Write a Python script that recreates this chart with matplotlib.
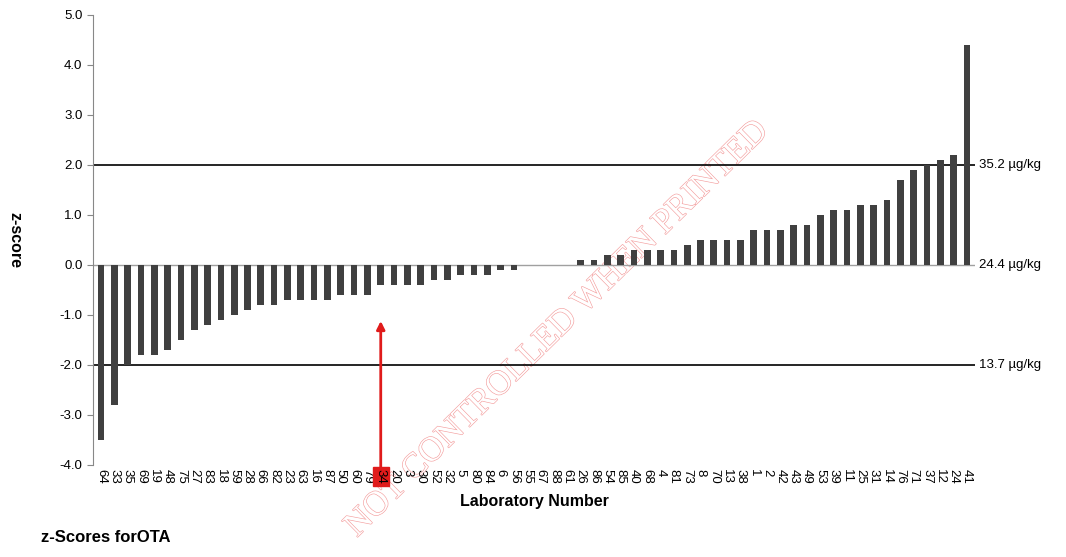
import numpy as np
import matplotlib.pyplot as plt
import matplotlib.patheffects as pe
from matplotlib.transforms import blended_transform_factory

plt.rcParams['font.family'] = ['Liberation Sans', 'DejaVu Sans']

# lab numbers, ordered by z-score
labs = ['64', '33', '35', '69', '19', '48', '75', '27', '83', '18', '59', '28',
        '66', '82', '23', '63', '16', '87', '50', '60', '79', '34', '20', '3',
        '30', '52', '32', '5', '80', '84', '6', '56', '55', '67', '88', '61',
        '26', '86', '54', '85', '40', '68', '4', '81', '73', '8', '70', '13',
        '38', '1', '2', '42', '43', '49', '53', '39', '11', '25', '31', '14',
        '76', '71', '37', '12', '24', '41']
zscores = [-3.5, -2.8, -2.0, -1.8, -1.8, -1.7, -1.5, -1.3, -1.2, -1.1, -1.0, -0.9,
           -0.8, -0.8, -0.7, -0.7, -0.7, -0.7, -0.6, -0.6, -0.6, -0.4, -0.4, -0.4,
           -0.4, -0.3, -0.3, -0.2, -0.2, -0.2, -0.1, -0.1, 0.0, 0.0, 0.0, 0.0,
           0.1, 0.1, 0.2, 0.2, 0.3, 0.3, 0.3, 0.3, 0.4, 0.5, 0.5, 0.5,
           0.5, 0.7, 0.7, 0.7, 0.8, 0.8, 1.0, 1.1, 1.1, 1.2, 1.2, 1.3,
           1.7, 1.9, 2.0, 2.1, 2.2, 4.4]
limit_z = [2.0, 0.0, -2.0]
limit_txt = ['35.2 µg/kg', '24.4 µg/kg', '13.7 µg/kg']
own_lab = '34'

fig = plt.figure(figsize=(10.66, 5.57), dpi=100)
ax = fig.add_axes([0.0872, 0.1652, 0.8274, 0.8079])
ax.patch.set_alpha(0)
ax.set_zorder(2)

x = np.arange(len(labs))
ax.bar(x, zscores, width=0.5, color='#404040', zorder=3)

ax.set_xlim(-0.6, len(labs) - 0.4)
ax.set_ylim(-4.0, 5.0)
ax.set_yticks(np.arange(-4, 5.1, 1.0))
ax.set_yticklabels([f'{v:.1f}' for v in np.arange(-4, 5.1, 1.0)], fontsize=9.5)

ax.axhline(0, color='#a0a0a0', lw=1.0, zorder=1)
ax.axhline(2, color='black', lw=1.2, zorder=2)
ax.axhline(-2, color='black', lw=1.2, zorder=2)

tr = blended_transform_factory(ax.transAxes, ax.transData)
for z, t in zip(limit_z, limit_txt):
    ax.text(1.005, z, t, transform=tr, va='center', ha='left', fontsize=9.5)

ax.set_xticks(x)
ax.set_xticklabels(labs, rotation=270, fontsize=9.5)
ax.tick_params(axis='x', length=0, pad=3)
ax.tick_params(axis='y', length=4, color='#888888')
for s in ['top', 'right', 'bottom']:
    ax.spines[s].set_visible(False)
ax.spines['left'].set_color('#888888')

# highlight own lab
i_own = labs.index(own_lab)
ax.get_xticklabels()[i_own].set_bbox(dict(facecolor='#e01b1b', edgecolor='#e01b1b', pad=1.5))
ax.annotate('', xy=(i_own, -1.12), xytext=(i_own, -4.08), annotation_clip=False,
            arrowprops=dict(arrowstyle='-|>', color='#e01b1b', lw=2, mutation_scale=12,
                            shrinkA=0, shrinkB=0))

ax.set_xlabel('Laboratory Number', fontsize=11.5, fontweight='bold', labelpad=7)
fig.text(0.014, 0.57, 'z-score', rotation=270, fontsize=11.5, fontweight='bold',
         ha='center', va='center')
fig.text(0.038, 0.022, 'z-Scores forOTA', fontsize=12, fontweight='bold',
         ha='left', va='bottom')

# watermark, behind the chart
wm = fig.text(0.523, 0.41, 'NOT CONTROLLED WHEN PRINTED', rotation=44.5,
              fontsize=25, family='Liberation Serif', ha='center', va='center',
              color='white', rotation_mode='anchor', zorder=0)
wm.set_path_effects([pe.Stroke(linewidth=0.9, foreground='#f4a0a0'), pe.Normal()])

fig.savefig('out.png', dpi=100)
